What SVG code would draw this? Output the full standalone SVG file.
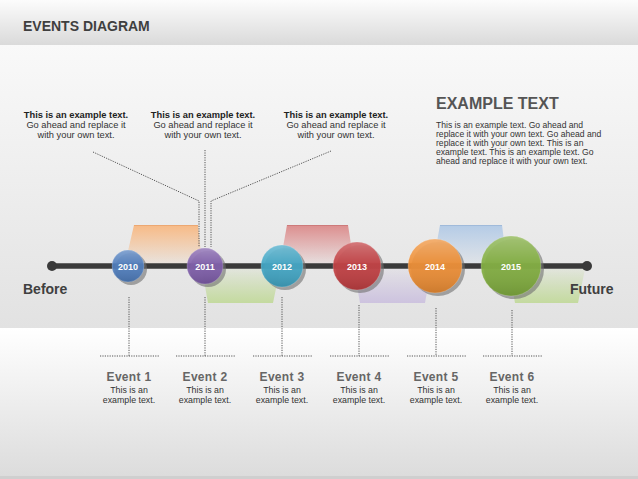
<svg xmlns="http://www.w3.org/2000/svg" width="638" height="479" viewBox="0 0 638 479">
<defs>
  <linearGradient id="bgHead" x1="0" y1="0" x2="0" y2="1">
    <stop offset="0" stop-color="#fcfcfc"/>
    <stop offset="1" stop-color="#dadada"/>
  </linearGradient>
  <linearGradient id="bgMid" x1="0" y1="0" x2="0" y2="1">
    <stop offset="0" stop-color="#f9f9f9"/>
    <stop offset="1" stop-color="#e2e2e2"/>
  </linearGradient>
  <linearGradient id="bgLow" x1="0" y1="0" x2="0" y2="1">
    <stop offset="0" stop-color="#ffffff"/>
    <stop offset="1" stop-color="#dcdcdc"/>
  </linearGradient>
  <linearGradient id="gOrange" x1="0" y1="0" x2="0" y2="1">
    <stop offset="0" stop-color="#f7ba86"/>
    <stop offset="1" stop-color="#f7ba86" stop-opacity="0.1"/>
  </linearGradient>
  <linearGradient id="gRed" x1="0" y1="0" x2="0" y2="1">
    <stop offset="0" stop-color="#dc8e8e"/>
    <stop offset="1" stop-color="#dc8e8e" stop-opacity="0.1"/>
  </linearGradient>
  <linearGradient id="gBlue" x1="0" y1="0" x2="0" y2="1">
    <stop offset="0" stop-color="#b4cbe6"/>
    <stop offset="1" stop-color="#b4cbe6" stop-opacity="0.15"/>
  </linearGradient>
  <linearGradient id="gGreen" x1="0" y1="0" x2="0" y2="1">
    <stop offset="0" stop-color="#c4da9f" stop-opacity="0.15"/>
    <stop offset="1" stop-color="#c4da9f"/>
  </linearGradient>
  <linearGradient id="gLav" x1="0" y1="0" x2="0" y2="1">
    <stop offset="0" stop-color="#cdc3df" stop-opacity="0.15"/>
    <stop offset="1" stop-color="#cdc3df"/>
  </linearGradient>
  <linearGradient id="sheen" x1="0" y1="0" x2="0" y2="1">
    <stop offset="0" stop-color="#ffffff" stop-opacity="0.28"/>
    <stop offset="0.45" stop-color="#ffffff" stop-opacity="0.05"/>
    <stop offset="1" stop-color="#000000" stop-opacity="0.12"/>
  </linearGradient>
  <style>
    .title{font-family:"Liberation Sans",Arial,sans-serif;font-weight:bold;font-size:14px;fill:#3f3f3f}
    .end{font-family:"Liberation Sans",Arial,sans-serif;font-weight:bold;font-size:14px;fill:#404040}
    .cb{font-family:"Liberation Sans",Arial,sans-serif;font-weight:bold;font-size:9.3px;fill:#222;text-anchor:middle}
    .cn{font-family:"Liberation Sans",Arial,sans-serif;font-size:9.3px;fill:#333;text-anchor:middle}
    .h{font-family:"Liberation Sans",Arial,sans-serif;font-weight:bold;font-size:16px;fill:#555}
    .p{font-family:"Liberation Sans",Arial,sans-serif;font-size:8.6px;fill:#333}
    .yr{font-family:"Liberation Sans",Arial,sans-serif;font-weight:bold;font-size:9px;fill:#ffffff;text-anchor:middle}
    .et{font-family:"Liberation Sans",Arial,sans-serif;font-weight:bold;font-size:12px;fill:#666;text-anchor:middle;letter-spacing:0.3px}
    .ed{font-family:"Liberation Sans",Arial,sans-serif;font-size:8.8px;fill:#333;text-anchor:middle}
    .dot{fill:none;stroke:#555;stroke-width:1;stroke-dasharray:1.2 1.2}
    .shadow{fill:#6f6f6f;opacity:0.6}
    .rim{fill:url(#sheen);stroke:#ffffff;stroke-opacity:0.25;stroke-width:0.8}
  </style>
</defs>

<!-- background -->
<rect x="0" y="0" width="638" height="45" fill="url(#bgHead)"/>
<rect x="0" y="45" width="638" height="283" fill="url(#bgMid)"/>
<rect x="0" y="328" width="638" height="148" fill="url(#bgLow)"/>
<rect x="0" y="476" width="638" height="3" fill="#cfcfcf"/>

<g id="title"><text class="title" x="23" y="30.5">EVENTS DIAGRAM</text></g>

<!-- decorative bands -->
<g id="bands">
  <polygon points="134,225 198,225 202,264 125,264" fill="url(#gOrange)"/>
  <line x1="134" y1="225.5" x2="198" y2="225.5" stroke="#e8a06a" stroke-width="1" opacity="0.7"/>
  <polygon points="287,225 348,225 354,264 280,264" fill="url(#gRed)"/>
  <line x1="287" y1="225.5" x2="348" y2="225.5" stroke="#c87272" stroke-width="1" opacity="0.7"/>
  <polygon points="440,225 502,225 507,264 433,264" fill="url(#gBlue)"/>
  <line x1="440" y1="225.5" x2="502" y2="225.5" stroke="#98b4d6" stroke-width="1" opacity="0.7"/>
  <polygon points="202,269 280,269 273,303 208,303" fill="url(#gGreen)"/>
  <polygon points="354,269 431,269 425,303 360,303" fill="url(#gLav)"/>
  <polygon points="509,269 585,269 578,303 515,303" fill="url(#gGreen)"/>
</g>

<!-- callouts -->
<g id="callout1">
  <text class="cb" x="76" y="118">This is an example text.</text>
  <text class="cn" x="76" y="128.3">Go ahead and replace it</text>
  <text class="cn" x="76" y="138.3">with your own text.</text>
</g>
<g id="callout2">
  <text class="cb" x="203" y="118">This is an example text.</text>
  <text class="cn" x="203" y="128.3">Go ahead and replace it</text>
  <text class="cn" x="203" y="138.3">with your own text.</text>
</g>
<g id="callout3">
  <text class="cb" x="336" y="118">This is an example text.</text>
  <text class="cn" x="336" y="128.3">Go ahead and replace it</text>
  <text class="cn" x="336" y="138.3">with your own text.</text>
</g>

<g id="example-text">
  <text class="h" x="436" y="109">EXAMPLE TEXT</text>
  <text class="p" x="436" y="128.3">This is an example text. Go ahead and</text>
  <text class="p" x="436" y="137.2">replace it with your own text. Go ahead and</text>
  <text class="p" x="436" y="146">replace it with your own text. This is an</text>
  <text class="p" x="436" y="154.9">example text. This is an example text. Go</text>
  <text class="p" x="436" y="163.7">ahead and replace it with your own text.</text>
</g>

<!-- connectors -->
<g id="connectors">
  <polyline class="dot" points="93,152 199,201 199,247"/>
  <polyline class="dot" points="205,150 205,247"/>
  <polyline class="dot" points="331,151 211,201 211,247"/>
  <line class="dot" x1="129" y1="297" x2="129" y2="356"/>
  <line class="dot" x1="100" y1="356" x2="159" y2="356"/>
  <line class="dot" x1="205" y1="297" x2="205" y2="356"/>
  <line class="dot" x1="176" y1="356" x2="235" y2="356"/>
  <line class="dot" x1="282" y1="297" x2="282" y2="356"/>
  <line class="dot" x1="253" y1="356" x2="312" y2="356"/>
  <line class="dot" x1="359" y1="305" x2="359" y2="356"/>
  <line class="dot" x1="330" y1="356" x2="389" y2="356"/>
  <line class="dot" x1="436" y1="308" x2="436" y2="356"/>
  <line class="dot" x1="407" y1="356" x2="466" y2="356"/>
  <line class="dot" x1="512" y1="310" x2="512" y2="356"/>
  <line class="dot" x1="483" y1="356" x2="542" y2="356"/>
</g>

<!-- timeline -->
<g id="timeline">
  <line x1="52" y1="266" x2="587" y2="266" stroke="#3a3a3a" stroke-width="5.5"/>
  <circle cx="52" cy="266" r="5" fill="#3a3a3a"/>
  <circle cx="587" cy="266" r="5" fill="#3a3a3a"/>
</g>
<g id="before"><text class="end" x="23" y="293.5">Before</text></g>
<g id="future"><text class="end" x="570" y="294">Future</text></g>

<!-- year nodes -->
<g id="y2010">
  <circle class="shadow" cx="131" cy="269" r="16"/>
  <circle cx="128" cy="266" r="16" fill="#4677bb" fill-opacity="0.92"/>
  <circle class="rim" cx="128" cy="266" r="16"/>
  <text class="yr" x="128" y="269.5">2010</text>
</g>
<g id="y2011">
  <circle class="shadow" cx="208" cy="269" r="18"/>
  <circle cx="205" cy="266" r="18" fill="#7a57a7" fill-opacity="0.92"/>
  <circle class="rim" cx="205" cy="266" r="18"/>
  <text class="yr" x="205" y="269.5">2011</text>
</g>
<g id="y2012">
  <circle class="shadow" cx="285" cy="269" r="21"/>
  <circle cx="282" cy="266" r="21" fill="#38a3c3" fill-opacity="0.92"/>
  <circle class="rim" cx="282" cy="266" r="21"/>
  <text class="yr" x="282" y="269.5">2012</text>
</g>
<g id="y2013">
  <circle class="shadow" cx="360" cy="269" r="24"/>
  <circle cx="357" cy="266" r="24" fill="#c0373a" fill-opacity="0.93"/>
  <circle class="rim" cx="357" cy="266" r="24"/>
  <text class="yr" x="357" y="269.5">2013</text>
</g>
<g id="y2014">
  <circle class="shadow" cx="438" cy="269" r="27"/>
  <circle cx="435" cy="266" r="27" fill="#ee8a2c" fill-opacity="0.93"/>
  <circle class="rim" cx="435" cy="266" r="27"/>
  <text class="yr" x="435" y="269.5">2014</text>
</g>
<g id="y2015">
  <circle class="shadow" cx="514" cy="269" r="30"/>
  <circle cx="511" cy="266" r="30" fill="#7dab38" fill-opacity="0.93"/>
  <circle class="rim" cx="511" cy="266" r="30"/>
  <text class="yr" x="511" y="269.5">2015</text>
</g>

<!-- event labels -->
<g id="event1"><text class="et" x="129" y="381">Event 1</text><text class="ed" x="129" y="392.5">This is an</text><text class="ed" x="129" y="402.5">example text.</text></g>
<g id="event2"><text class="et" x="205" y="381">Event 2</text><text class="ed" x="205" y="392.5">This is an</text><text class="ed" x="205" y="402.5">example text.</text></g>
<g id="event3"><text class="et" x="282" y="381">Event 3</text><text class="ed" x="282" y="392.5">This is an</text><text class="ed" x="282" y="402.5">example text.</text></g>
<g id="event4"><text class="et" x="359" y="381">Event 4</text><text class="ed" x="359" y="392.5">This is an</text><text class="ed" x="359" y="402.5">example text.</text></g>
<g id="event5"><text class="et" x="436" y="381">Event 5</text><text class="ed" x="436" y="392.5">This is an</text><text class="ed" x="436" y="402.5">example text.</text></g>
<g id="event6"><text class="et" x="512" y="381">Event 6</text><text class="ed" x="512" y="392.5">This is an</text><text class="ed" x="512" y="402.5">example text.</text></g>
</svg>
